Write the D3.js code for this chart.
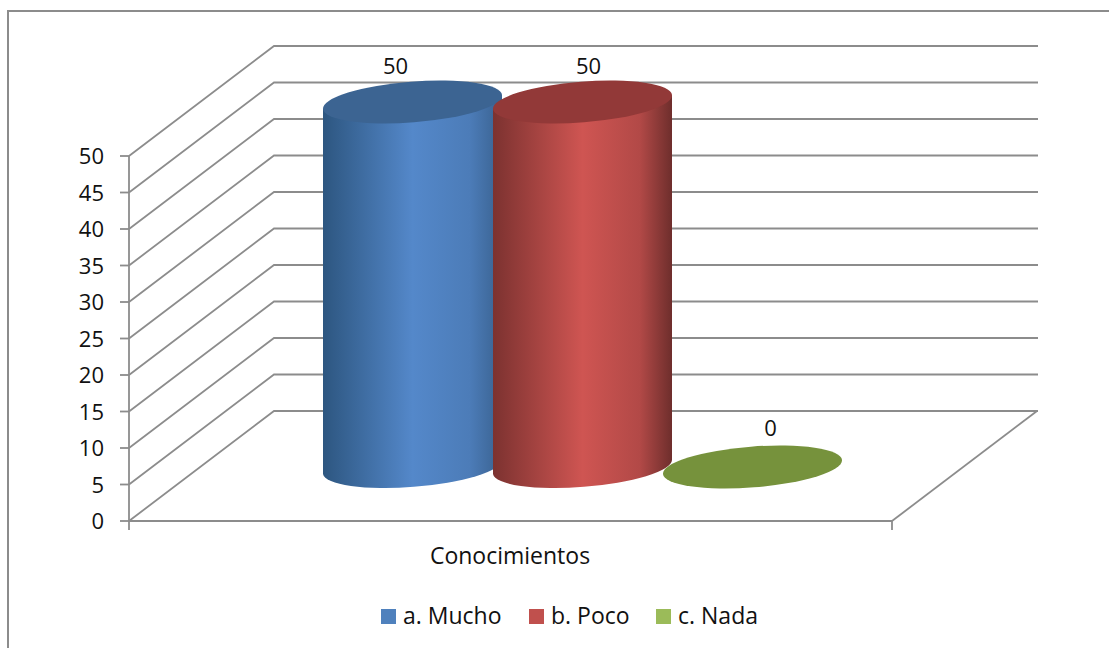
<!DOCTYPE html>
<html>
<head>
<meta charset="utf-8">
<script src="https://cdn.jsdelivr.net/npm/d3@7/dist/d3.min.js"></script>
<style>
  html, body { margin: 0; padding: 0; background: #fff; }
  svg { display: block; }
  text { font-family: "Open Sans", sans-serif; fill: #111; }
</style>
</head>
<body>
<svg width="1109" height="648"></svg>
<script>
// data
var categories = ["Conocimientos"];
var seriesNames = ["a. Mucho", "b. Poco", "c. Nada"];
var seriesValues = [50, 50, 0];
var yTicks = [0, 5, 10, 15, 20, 25, 30, 35, 40, 45, 50];

var legendColors = ["#4f81bd", "#c0504d", "#9bbb59"];
var topColors = ["#3c6492", "#923938", "#76923c"];
var edgeLeft = ["#2d5680", "#7c3230", "#76923c"];
var midColors = ["#5488ca", "#cf5552", "#9bbb59"];
var edgeRight = ["#39618f", "#6e2e2c", "#76923c"];

var svg = d3.select("svg");
var grey = "#8c8c8c";

// chart frame, only top and left are in the crop
svg.append("path")
    .attr("d", "M1109,11H8V648")
    .attr("fill", "none")
    .attr("stroke", grey)
    .attr("stroke-width", 2);

var y = d3.scaleLinear().domain([0, 50]).range([521, 156]);
var catX = d3.scaleBand().domain(categories).range([129, 892]);
// bars only take up the middle of the category
var barX = d3.scaleBand().domain(seriesNames).range([255, 765]);

// the depth of the 3d box
var depthX = 145, depthY = 110;
var xLeft = catX.range()[0], xRight = catX.range()[1];

var grid = svg.append("g").attr("fill", "none").attr("stroke", grey).attr("stroke-width", 1.8);

grid.selectAll("path.gridline")
    .data(yTicks)
    .enter()
    .append("path")
    .attr("class", "gridline")
    .attr("d", d => "M" + xLeft + "," + y(d) +
        "L" + (xLeft + depthX) + "," + (y(d) - depthY) +
        "H" + (xRight + depthX + 1));

// axes
grid.append("path").attr("d", "M" + xLeft + "," + y(50) + "V" + (y(0) + 9));
grid.append("path").attr("d", "M" + xLeft + "," + y(0) + "H" + xRight + "V" + (y(0) + 9));
grid.append("path").attr("d", "M" + xRight + "," + y(0) + "L" + (xRight + depthX) + "," + (y(0) - depthY));

grid.selectAll("path.tick")
    .data(yTicks)
    .enter()
    .append("path")
    .attr("class", "tick")
    .attr("d", d => "M" + (xLeft - 9) + "," + y(d) + "H" + xLeft);

svg.selectAll("text.ytick")
    .data(yTicks)
    .enter()
    .append("text")
    .attr("class", "ytick")
    .attr("x", 104)
    .attr("y", d => y(d) + 8)
    .attr("text-anchor", "end")
    .style("font-size", "22px")
    .text(d => d);

// cylinder shading
var defs = svg.append("defs");
seriesNames.forEach((s, i) => {
    var g = defs.append("linearGradient").attr("id", "cyl" + i);
    g.append("stop").attr("offset", "0%").attr("stop-color", edgeLeft[i]);
    g.append("stop").attr("offset", "50%").attr("stop-color", midColors[i]);
    g.append("stop").attr("offset", "82%").attr("stop-color", d3.interpolateRgb(midColors[i], edgeRight[i])(0.3));
    g.append("stop").attr("offset", "100%").attr("stop-color", edgeRight[i]);
});

// ellipse is tilted, these are its radii and the tangent points at the sides
var rx = 89.8, ry = 20.4, tilt = -4.5;
var sideX = 89.5, sideY = 7;
var floorShift = 54;

function cx(s) { return barX(s) + barX.bandwidth() / 2 + depthX / 2; }
function cy(v) { return y(v) - floorShift; }

var bars = svg.selectAll("g.bar")
    .data(seriesNames)
    .enter()
    .append("g")
    .attr("class", "bar");

bars.filter((d, i) => seriesValues[i] > 0)
    .append("path")
    .attr("fill", d => "url(#cyl" + seriesNames.indexOf(d) + ")")
    .attr("d", d => {
        var v = seriesValues[seriesNames.indexOf(d)];
        return "M" + (cx(d) - sideX) + "," + (cy(v) + sideY) +
            "L" + (cx(d) - sideX) + "," + (cy(0) + sideY) +
            "A" + rx + "," + ry + "," + tilt + ",0,0," + (cx(d) + sideX) + "," + (cy(0) - sideY) +
            "L" + (cx(d) + sideX) + "," + (cy(v) - sideY) + "Z";
    });

bars.append("ellipse")
    .attr("rx", rx)
    .attr("ry", ry)
    .attr("fill", (d, i) => topColors[i])
    .attr("transform", (d, i) => "translate(" + cx(d) + "," + cy(seriesValues[i]) + ") rotate(" + tilt + ")");

// data labels sit a bit off from the bar centres in the original
var labelShift = [-17, 6, 18];
var labelRise = [28, 28, 31];
bars.append("text")
    .attr("x", (d, i) => cx(d) + labelShift[i])
    .attr("y", (d, i) => cy(seriesValues[i]) - labelRise[i])
    .attr("text-anchor", "middle")
    .style("font-size", "22px")
    .text((d, i) => seriesValues[i]);

// category label
svg.append("text")
    .attr("x", 510)
    .attr("y", 564)
    .attr("text-anchor", "middle")
    .style("font-size", "23px")
    .text(categories[0]);

// legend
var legendX = [381, 529, 656];
var legend = svg.selectAll("g.legend")
    .data(seriesNames)
    .enter()
    .append("g")
    .attr("class", "legend")
    .attr("transform", (d, i) => "translate(" + legendX[i] + ",609)");

legend.append("rect")
    .attr("width", 15).attr("height", 15)
    .attr("fill", (d, i) => legendColors[i]);

legend.append("text")
    .attr("x", 22)
    .attr("y", 15)
    .style("font-size", "23px")
    .text(d => d);
</script>
</body>
</html>
